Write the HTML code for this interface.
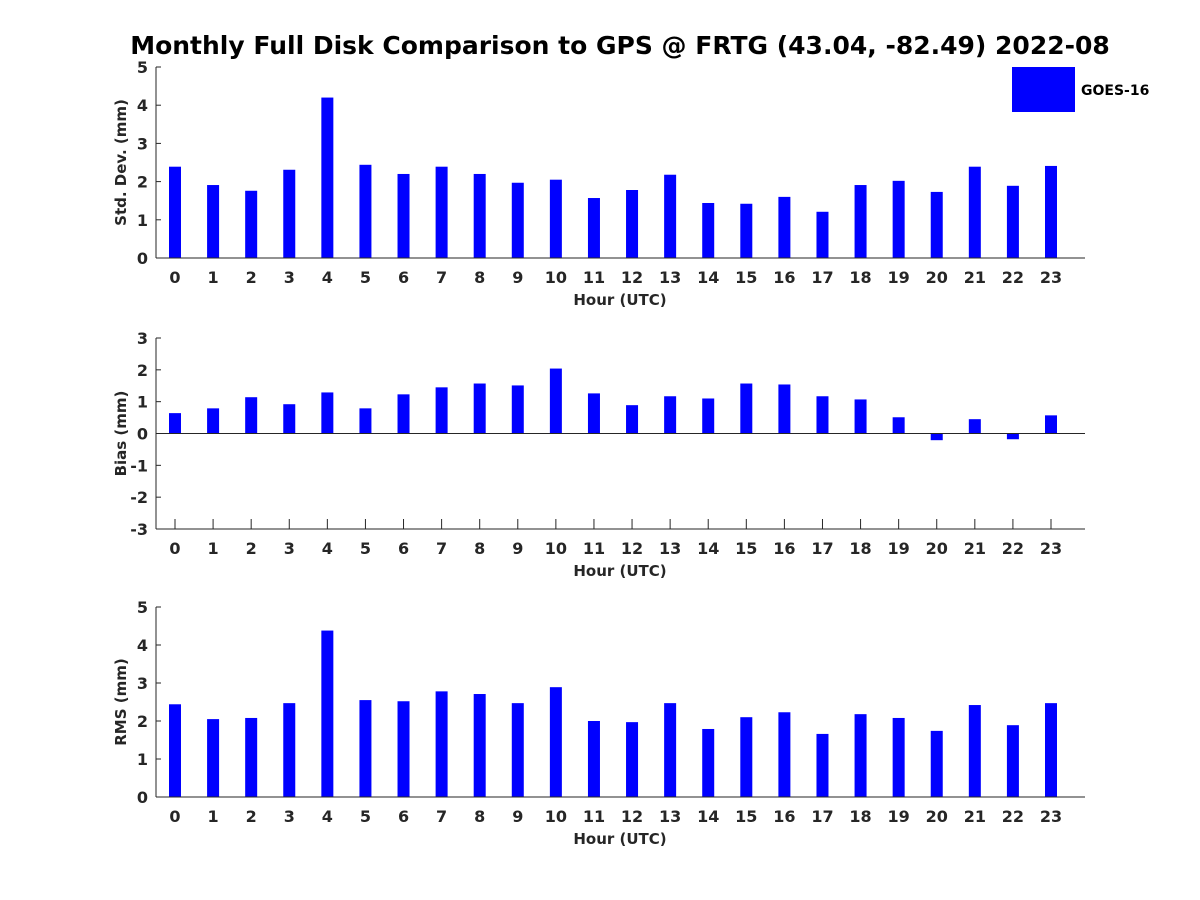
<!DOCTYPE html>
<html><head><meta charset="utf-8"><style>
body{margin:0;background:#fff}
svg{display:block;font-family:"DejaVu Sans","Liberation Sans",sans-serif;font-weight:bold}
</style></head><body>
<svg id="chart" width="1200" height="900">
<text x="620" y="54" text-anchor="middle" font-size="25" fill="#000">Monthly Full Disk Comparison to GPS @ FRTG (43.04, -82.49) 2022-08</text>
<g>
<rect x="1012" y="67" width="63" height="45" fill="#0000ff"/>
<text x="1081" y="95" font-size="14" fill="#000">GOES-16</text>
</g>
</svg>
<script>
const hours=[0,1,2,3,4,5,6,7,8,9,10,11,12,13,14,15,16,17,18,19,20,21,22,23];
const stdDev=[2.39,1.91,1.76,2.31,4.20,2.44,2.20,2.39,2.20,1.97,2.05,1.57,1.78,2.18,1.44,1.42,1.60,1.21,1.91,2.02,1.73,2.39,1.89,2.41];
const bias=[0.64,0.79,1.14,0.92,1.29,0.79,1.23,1.45,1.57,1.51,2.04,1.26,0.89,1.17,1.10,1.57,1.54,1.17,1.07,0.51,-0.21,0.45,-0.18,0.57];
const rms=[2.44,2.05,2.08,2.47,4.38,2.55,2.52,2.78,2.71,2.47,2.89,2.00,1.97,2.47,1.79,2.10,2.23,1.66,2.18,2.08,1.74,2.42,1.89,2.47];
const stdTicks=[0,1,2,3,4,5];
const biasTicks=[-3,-2,-1,0,1,2,3];
const rmsTicks=[0,1,2,3,4,5];
const NS="http://www.w3.org/2000/svg";
const svg=document.getElementById('chart');
function mk(tag,attrs,parent){const e=document.createElementNS(NS,tag);for(const k in attrs)e.setAttribute(k,attrs[k]);(parent||svg).appendChild(e);return e;}
const X0=156,X1=1085;
function xs(h){return 175+(h-hours[0])*(1051-175)/23;}
function panel(name,top,bot,ymin,ymax,ticks,vals,label,xticks){
  const g=mk('g',{});
  
  
  const ys=v=>bot-(v-ymin)/(ymax-ymin)*(bot-top);
  vals.forEach((v,i)=>{
    const y0=ys(0),y1=ys(v);
    const r=mk('rect',{x:xs(hours[i])-6,y:Math.min(y0,y1),width:12,height:Math.abs(y1-y0),fill:'#0000ff'},g);
    
    
  });
  mk('line',{x1:X0,y1:top,x2:X0,y2:bot,stroke:'#262626','stroke-width':1},g);
  mk('line',{x1:X0,y1:bot,x2:X1,y2:bot,stroke:'#262626','stroke-width':1},g);
  if(ymin<0) mk('line',{x1:X0,y1:ys(0),x2:X1,y2:ys(0),stroke:'#262626','stroke-width':1},g);
  ticks.forEach(t=>{
    const y=ys(t);
    mk('line',{x1:X0,y1:y,x2:X0+5,y2:y,stroke:'#262626'},g);
    const tx=mk('text',{x:X0-8,y:y+6,'text-anchor':'end','font-size':16,fill:'#262626'},g);
    tx.textContent=t;
    
    
  });
  hours.forEach(h=>{
    if(xticks) mk('line',{x1:xs(h),y1:bot,x2:xs(h),y2:bot-10,stroke:'#262626'},g);
    const tx=mk('text',{x:xs(h),y:bot+25,'text-anchor':'middle','font-size':16,fill:'#262626'},g);
    tx.textContent=h;
    
    
  });
  const xl=mk('text',{x:620,y:bot+47,'text-anchor':'middle','font-size':15,fill:'#262626'},g);
  xl.textContent='Hour (UTC)';
  
  
  const cy=(top+bot)/2;
  const yl=mk('text',{x:126,y:cy,'text-anchor':'middle','font-size':15,fill:'#262626',transform:`rotate(-90 126 ${cy})`},g);
  yl.textContent=label;
  
  
}
panel('std-dev',67,258,0,5,stdTicks,stdDev,'Std. Dev. (mm)',false);
panel('bias',338,529,-3,3,biasTicks,bias,'Bias (mm)',true);
panel('rms',607,797,0,5,rmsTicks,rms,'RMS (mm)',false);
</script>
</body></html>
